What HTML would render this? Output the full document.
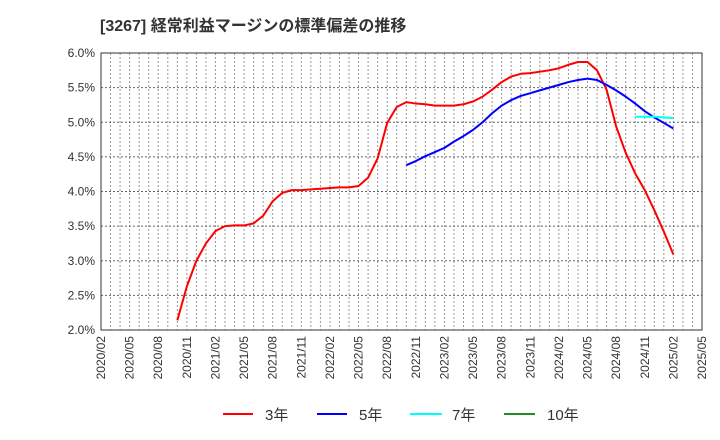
<!DOCTYPE html>
<html><head><meta charset="utf-8"><style>
html,body{margin:0;padding:0;background:#fff;}
svg{display:block;font-family:"Liberation Sans","Noto Sans CJK JP",sans-serif;}
</style></head><body>
<svg id="chart" width="720" height="440" viewBox="0 0 720 440">
<text x="100" y="31" font-size="16" font-weight="bold" fill="#333">[3267]  経常利益マージンの標準偏差の推移</text>
<g id="grid"></g>
<g id="series"></g>
<rect x="101" y="53" width="601" height="277" fill="none" stroke="#333" stroke-width="1"/>
<g id="yaxis"></g>
<g id="xaxis"></g>
<g>
<g><line x1="223" y1="414" x2="253" y2="414" stroke="#ff0000" stroke-width="2"/><text x="265" y="420" font-size="15" fill="#333">3年</text></g>
<g><line x1="317" y1="414" x2="347" y2="414" stroke="#0000ff" stroke-width="2"/><text x="359" y="420" font-size="15" fill="#333">5年</text></g>
<g><line x1="410" y1="414" x2="442" y2="414" stroke="#00ffff" stroke-width="2"/><text x="452" y="420" font-size="15" fill="#333">7年</text></g>
<g><line x1="504" y1="414" x2="535" y2="414" stroke="#228b22" stroke-width="2"/><text x="547" y="420" font-size="15" fill="#333">10年</text></g>
</g>
</svg>
<script>
const xTickLabels = ["2020/02","2020/05","2020/08","2020/11","2021/02","2021/05","2021/08","2021/11","2022/02","2022/05","2022/08","2022/11","2023/02","2023/05","2023/08","2023/11","2024/02","2024/05","2024/08","2024/11","2025/02","2025/05"];
const yTicks = [2.0,2.5,3.0,3.5,4.0,4.5,5.0,5.5,6.0];
const red3Start = 8;
const red3 = [2.14,2.63,3.0,3.25,3.43,3.5,3.51,3.51,3.54,3.65,3.86,3.98,4.02,4.02,4.03,4.04,4.05,4.06,4.06,4.08,4.20,4.48,4.99,5.22,5.29,5.27,5.26,5.24,5.24,5.24,5.26,5.30,5.37,5.47,5.58,5.66,5.70,5.71,5.73,5.75,5.78,5.83,5.87,5.87,5.75,5.47,4.94,4.56,4.26,4.02,3.73,3.42,3.09];
const blue5Start = 32;
const blue5 = [4.38,4.44,4.51,4.57,4.63,4.72,4.80,4.89,5.0,5.13,5.24,5.32,5.38,5.42,5.46,5.50,5.54,5.58,5.61,5.63,5.61,5.54,5.46,5.37,5.27,5.16,5.07,4.99,4.91];
const cyan7Start = 56;
const cyan7 = [5.08,5.08,5.08,5.07,5.06];
const green10 = [];

const NS="http://www.w3.org/2000/svg";
const L=101,R=702,T=53,B=330,nMonths=63;
const xS=i=>L+(R-L)*i/nMonths;
const yS=v=>B-(B-T)*(v-2)/4;
function mk(tag,attrs,parent){const e=document.createElementNS(NS,tag);for(const k in attrs)e.setAttribute(k,attrs[k]);parent.appendChild(e);return e;}
const grid=document.getElementById('grid');
for(let i=1;i<nMonths;i++){
  const ln=mk('line',{x1:xS(i),x2:xS(i),y1:T,y2:B,stroke:'#999','stroke-width':1,'stroke-dasharray':'2,2'},grid);
  
  
}
const ya=document.getElementById('yaxis');
yTicks.forEach(v=>{
  const ln=mk('line',{x1:L,x2:R,y1:yS(v),y2:yS(v),stroke:'#666','stroke-width':1,'stroke-dasharray':'2,2'},grid);
  
  
  const t=mk('text',{x:L-6,y:yS(v)+4,'font-size':12,fill:'#333','text-anchor':'end'},ya);
  t.textContent=v.toFixed(1)+'%';
  
  
});
const xa=document.getElementById('xaxis');
xTickLabels.forEach((s,i)=>{
  const x=xS(i*3),y=336;
  const t=mk('text',{x:x+4,y:y,'font-size':12,fill:'#333','text-anchor':'end',transform:`rotate(-90 ${x+4} ${y})`},xa);
  t.textContent=s;
  
  
});
const sg=document.getElementById('series');
function line(vals,start,color,name){
  if(!vals.length)return;
  const p=mk('polyline',{points:vals.map((v,i)=>xS(start+i)+','+yS(v)).join(' '),fill:'none',stroke:color,'stroke-width':2,'stroke-linejoin':'round'},sg);
  
  
}
line(red3,red3Start,'#ff0000','line-3y');
line(blue5,blue5Start,'#0000ff','line-5y');
line(cyan7,cyan7Start,'#00ffff','line-7y');
line(green10,0,'#228b22','line-10y');
</script>
</body></html>
